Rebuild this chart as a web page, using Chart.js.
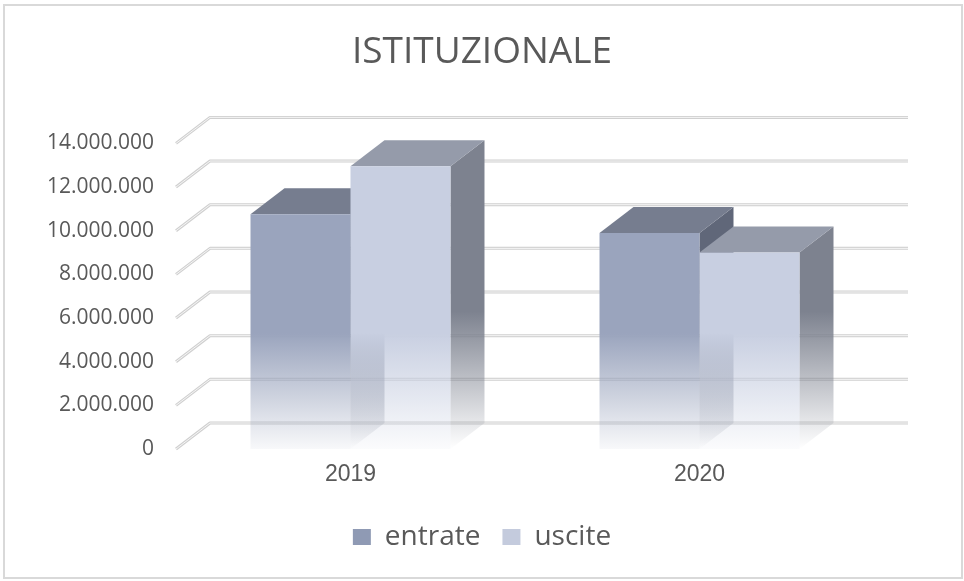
<!DOCTYPE html>
<html>
<head>
<meta charset="utf-8">
<title>ISTITUZIONALE</title>
<script src="https://cdn.jsdelivr.net/npm/chart.js@4.4.1/dist/chart.umd.min.js"></script>
<style>
  html, body { margin: 0; padding: 0; background: #fff; }
  #chart { display: block; }
</style>
</head>
<body>
<canvas id="chart" width="964" height="581"></canvas>
<script>
/* =========================================================
   DATA
========================================================= */

const categories = ["2019", "2020"];
const seriesNames = ["entrate", "uscite"];
const entrate = [10750000, 9900000];
const uscite = [12950000, 9000000];

const Y_MIN = 0;
const Y_MAX = 14000000;
const Y_STEP = 2000000;

/* =========================================================
   STYLE
========================================================= */

const TEXT_COLOR = "#595959";
const DEPTH_X = 34;
const DEPTH_Y = -26;

// front colour as rgb so the bottom can fade out
const FACES = [
  { front: [154, 164, 189], top: "#767d8f", side: [96, 103, 121], legend: "#8f9ab4" },
  { front: [200, 207, 225], top: "#959baa", side: [125, 130, 143], legend: "#c4cbdd" }
];

/* =========================================================
   HELPERS
========================================================= */

function formatIt(value) {
  return String(Math.round(value)).replace(/\B(?=(\d{3})+(?!\d))/g, ".");
}

function rgba(c, a) {
  return `rgba(${c[0]},${c[1]},${c[2]},${a})`;
}

// fades towards the floor, like the office "reflection" look
function fadeGradient(ctx, area, color, solidUntil, endAlpha) {
  const g = ctx.createLinearGradient(0, area.top, 0, area.bottom);
  g.addColorStop(0, rgba(color, 1));
  g.addColorStop(solidUntil, rgba(color, 1));
  g.addColorStop(1, rgba(color, endAlpha));
  return g;
}

function frontFill(i) {
  return (context) => {
    const chart = context.chart;
    if (!chart.chartArea) return rgba(FACES[i].front, 1);
    return fadeGradient(chart.ctx, chart.chartArea, FACES[i].front, 0.62, 0.07);
  };
}

function polygon(ctx, pts) {
  ctx.beginPath();
  ctx.moveTo(pts[0][0], pts[0][1]);
  for (let k = 1; k < pts.length; k++) ctx.lineTo(pts[k][0], pts[k][1]);
  ctx.closePath();
}

function gridLine(ctx, pts) {
  ctx.save();
  ctx.lineJoin = "round";
  ctx.beginPath();
  ctx.moveTo(pts[0][0], pts[0][1]);
  for (let k = 1; k < pts.length; k++) ctx.lineTo(pts[k][0], pts[k][1]);
  ctx.lineWidth = 3;
  ctx.strokeStyle = "#d0d0d0";
  ctx.stroke();
  ctx.lineWidth = 1;
  ctx.strokeStyle = "#f6f6f6";
  ctx.stroke();
  ctx.restore();
}

/* =========================================================
   3D PLUGIN (back wall, sides and tops of the bars)
========================================================= */

const box3d = {
  id: "box3d",

  beforeDraw(chart) {
    const { ctx, width, height } = chart;
    ctx.save();
    ctx.fillStyle = "#ffffff";
    ctx.fillRect(0, 0, width, height);
    ctx.lineWidth = 2;
    ctx.strokeStyle = "#d9d9d9";
    ctx.strokeRect(4, 5, width - 6, height - 8);
    ctx.restore();
  },

  beforeDatasetsDraw(chart) {
    const { ctx, chartArea: area, scales } = chart;
    const y = scales.y;

    y.ticks.forEach((t) => {
      const py = y.getPixelForValue(t.value);
      gridLine(ctx, [
        [area.left, py],
        [area.left + DEPTH_X, py + DEPTH_Y],
        [area.right + DEPTH_X, py + DEPTH_Y]
      ]);
    });

    const bars = [];
    chart.data.datasets.forEach((ds, i) => {
      chart.getDatasetMeta(i).data.forEach((bar) => bars.push({ bar, face: FACES[i] }));
    });

    ctx.save();
    // side faces first, tops over them, fronts are drawn by Chart.js last
    bars.forEach(({ bar, face }) => {
      const r = bar.x + bar.width / 2;
      polygon(ctx, [
        [r, bar.y],
        [r + DEPTH_X, bar.y + DEPTH_Y],
        [r + DEPTH_X, bar.base + DEPTH_Y],
        [r, bar.base]
      ]);
      ctx.fillStyle = fadeGradient(ctx, area, face.side, 0.55, 0);
      ctx.fill();
    });

    bars.forEach(({ bar, face }) => {
      const l = bar.x - bar.width / 2;
      const r = bar.x + bar.width / 2;
      polygon(ctx, [
        [l, bar.y],
        [l + DEPTH_X, bar.y + DEPTH_Y],
        [r + DEPTH_X, bar.y + DEPTH_Y],
        [r, bar.y]
      ]);
      ctx.fillStyle = face.top;
      ctx.fill();
    });
    ctx.restore();
  }
};

/* =========================================================
   CHART
========================================================= */

new Chart(document.getElementById("chart"), {
  type: "bar",
  data: {
    labels: categories,
    datasets: [
      {
        label: seriesNames[0],
        data: entrate,
        backgroundColor: frontFill(0),
        borderWidth: 0,
        categoryPercentage: 0.573,
        barPercentage: 1
      },
      {
        label: seriesNames[1],
        data: uscite,
        backgroundColor: frontFill(1),
        borderWidth: 0,
        categoryPercentage: 0.573,
        barPercentage: 1
      }
    ]
  },
  options: {
    responsive: false,
    animation: false,
    layout: { padding: { top: 0, bottom: 20, left: 0, right: 0 } },
    plugins: {
      title: {
        display: true,
        text: "ISTITUZIONALE",
        color: TEXT_COLOR,
        font: { family: "'Open Sans'", size: 37, weight: "normal" },
        padding: { top: 30, bottom: 69 }
      },
      legend: {
        position: "bottom",
        labels: {
          color: TEXT_COLOR,
          font: { family: "'Open Sans'", size: 28 },
          boxWidth: 18,
          boxHeight: 16,
          padding: 22,
          generateLabels: (chart) =>
            chart.data.datasets.map((ds, i) => ({
              text: ds.label,
              fillStyle: FACES[i].legend,
              strokeStyle: "rgba(0,0,0,0)",
              lineWidth: 0,
              fontColor: TEXT_COLOR,
              datasetIndex: i,
              hidden: false
            }))
        }
      },
      tooltip: { enabled: false }
    },
    scales: {
      x: {
        grid: { display: false, drawTicks: false },
        border: { display: false },
        ticks: {
          color: TEXT_COLOR,
          font: { family: "'Liberation Sans'", size: 23 },
          padding: 12
        },
        afterFit: (s) => { s.height = 52; }
      },
      y: {
        min: Y_MIN,
        max: Y_MAX,
        grid: { display: false, drawTicks: false },
        border: { display: false },
        ticks: {
          stepSize: Y_STEP,
          color: TEXT_COLOR,
          font: { family: "'Open Sans'", size: 21 },
          padding: 22,
          callback: (v) => formatIt(v)
        },
        afterFit: (s) => { s.width = 176; }
      },
      // empty right axis, only reserves the room used by the depth
      yRight: {
        position: "right",
        grid: { display: false, drawTicks: false },
        border: { display: false },
        ticks: { display: false },
        afterFit: (s) => { s.width = 90; }
      }
    }
  },
  plugins: [box3d]
});
</script>
</body>
</html>
